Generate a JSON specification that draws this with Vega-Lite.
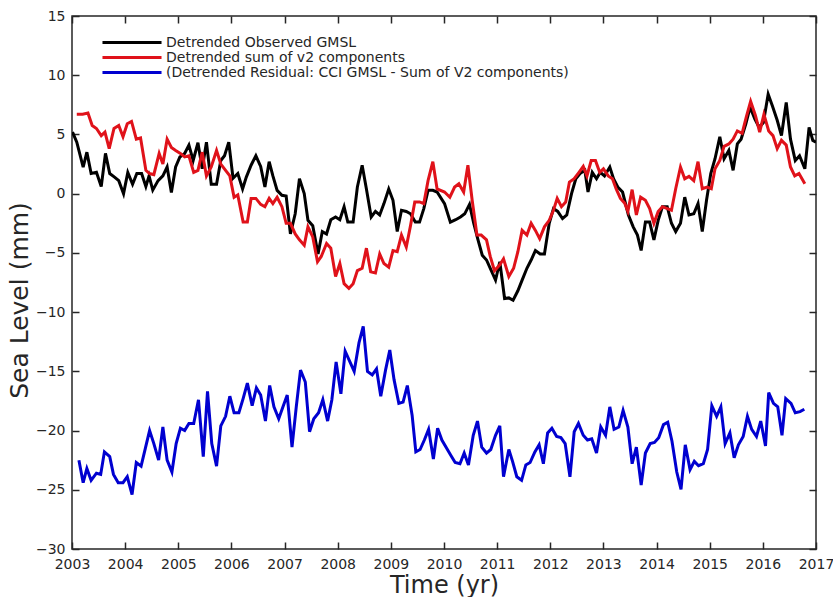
{
  "$schema": "https://vega.github.io/schema/vega-lite/v6.json",
  "width": 744,
  "height": 533,
  "autosize": {"type": "none"},
  "padding": {"left": 72, "top": 16, "right": 17, "bottom": 48},
  "background": "white",
  "config": {
    "view": {"stroke": "#262626", "strokeWidth": 1.5},
    "axis": {
      "labelFont": "DejaVu Sans",
      "titleFont": "DejaVu Sans",
      "labelColor": "#262626",
      "titleColor": "#262626",
      "tickColor": "#262626",
      "titleFontWeight": "normal",
      "grid": false,
      "domain": false,
      "tickWidth": 1.5
    }
  },
  "data": {"values": [
    {"s":"o","t":2003.01,"v":5.2},{"s":"o","t":2003.09,"v":4.35},{"s":"o","t":2003.21,"v":2.25},{"s":"o","t":2003.28,"v":3.5},{"s":"o","t":2003.36,"v":1.7},{"s":"o","t":2003.46,"v":1.8},{"s":"o","t":2003.55,"v":0.6},{"s":"o","t":2003.63,"v":3.4},{"s":"o","t":2003.71,"v":1.7},{"s":"o","t":2003.80,"v":1.4},{"s":"o","t":2003.88,"v":1.1},{"s":"o","t":2003.97,"v":0.0},
    {"s":"o","t":2004.05,"v":1.8},{"s":"o","t":2004.14,"v":0.8},{"s":"o","t":2004.22,"v":1.7},{"s":"o","t":2004.31,"v":1.7},{"s":"o","t":2004.39,"v":0.6},{"s":"o","t":2004.45,"v":1.5},{"s":"o","t":2004.52,"v":0.3},{"s":"o","t":2004.62,"v":1.1},{"s":"o","t":2004.71,"v":1.5},{"s":"o","t":2004.79,"v":2.25},{"s":"o","t":2004.87,"v":0.1},{"s":"o","t":2004.95,"v":2.25},
    {"s":"o","t":2005.03,"v":3.1},{"s":"o","t":2005.12,"v":3.4},{"s":"o","t":2005.20,"v":4.1},{"s":"o","t":2005.28,"v":2.8},{"s":"o","t":2005.37,"v":4.3},{"s":"o","t":2005.45,"v":2.1},{"s":"o","t":2005.53,"v":4.35},{"s":"o","t":2005.62,"v":0.8},{"s":"o","t":2005.72,"v":0.8},{"s":"o","t":2005.80,"v":2.8},{"s":"o","t":2005.87,"v":3.2},{"s":"o","t":2005.95,"v":4.35},
    {"s":"o","t":2006.03,"v":1.3},{"s":"o","t":2006.12,"v":1.7},{"s":"o","t":2006.21,"v":0.4},{"s":"o","t":2006.28,"v":1.4},{"s":"o","t":2006.37,"v":2.4},{"s":"o","t":2006.46,"v":3.2},{"s":"o","t":2006.55,"v":2.3},{"s":"o","t":2006.63,"v":0.56},{"s":"o","t":2006.71,"v":2.7},{"s":"o","t":2006.78,"v":1.5},{"s":"o","t":2006.86,"v":0.28},{"s":"o","t":2006.95,"v":-0.14},
    {"s":"o","t":2007.03,"v":-0.2},{"s":"o","t":2007.11,"v":-3.4},{"s":"o","t":2007.20,"v":-1.7},{"s":"o","t":2007.28,"v":1.26},{"s":"o","t":2007.37,"v":0.0},{"s":"o","t":2007.44,"v":-2.25},{"s":"o","t":2007.53,"v":-2.7},{"s":"o","t":2007.63,"v":-5.1},{"s":"o","t":2007.71,"v":-3.2},{"s":"o","t":2007.79,"v":-3.4},{"s":"o","t":2007.87,"v":-2.2},{"s":"o","t":2007.96,"v":-1.97},
    {"s":"o","t":2008.04,"v":-2.2},{"s":"o","t":2008.12,"v":-1.1},{"s":"o","t":2008.19,"v":-2.4},{"s":"o","t":2008.29,"v":-2.4},{"s":"o","t":2008.37,"v":0.56},{"s":"o","t":2008.46,"v":2.4},{"s":"o","t":2008.54,"v":0.4},{"s":"o","t":2008.63,"v":-1.97},{"s":"o","t":2008.71,"v":-1.5},{"s":"o","t":2008.79,"v":-1.8},{"s":"o","t":2008.87,"v":-0.84},{"s":"o","t":2008.96,"v":0.4},
    {"s":"o","t":2009.04,"v":-0.56},{"s":"o","t":2009.12,"v":-3.2},{"s":"o","t":2009.20,"v":-1.4},{"s":"o","t":2009.29,"v":-1.5},{"s":"o","t":2009.37,"v":-1.7},{"s":"o","t":2009.46,"v":-2.4},{"s":"o","t":2009.54,"v":-2.4},{"s":"o","t":2009.62,"v":-1.26},{"s":"o","t":2009.70,"v":0.28},{"s":"o","t":2009.79,"v":0.28},{"s":"o","t":2009.87,"v":0.14},
    {"s":"o","t":2010.01,"v":-0.84},{"s":"o","t":2010.12,"v":-2.4},{"s":"o","t":2010.22,"v":-2.2},{"s":"o","t":2010.31,"v":-1.97},{"s":"o","t":2010.39,"v":-1.7},{"s":"o","t":2010.48,"v":-0.9},{"s":"o","t":2010.56,"v":-2.5},{"s":"o","t":2010.64,"v":-3.9},{"s":"o","t":2010.72,"v":-5.2},{"s":"o","t":2010.80,"v":-5.6},{"s":"o","t":2010.89,"v":-6.5},{"s":"o","t":2010.97,"v":-7.3},
    {"s":"o","t":2011.05,"v":-5.75},{"s":"o","t":2011.14,"v":-8.85},{"s":"o","t":2011.22,"v":-8.8},{"s":"o","t":2011.30,"v":-9.0},{"s":"o","t":2011.39,"v":-8.2},{"s":"o","t":2011.47,"v":-7.3},{"s":"o","t":2011.56,"v":-6.3},{"s":"o","t":2011.64,"v":-5.6},{"s":"o","t":2011.72,"v":-4.8},{"s":"o","t":2011.81,"v":-5.1},{"s":"o","t":2011.89,"v":-5.1},{"s":"o","t":2011.98,"v":-2.5},
    {"s":"o","t":2012.06,"v":-1.26},{"s":"o","t":2012.14,"v":-1.5},{"s":"o","t":2012.23,"v":-2.1},{"s":"o","t":2012.31,"v":-1.8},{"s":"o","t":2012.40,"v":0.0},{"s":"o","t":2012.48,"v":1.26},{"s":"o","t":2012.56,"v":1.7},{"s":"o","t":2012.65,"v":1.97},{"s":"o","t":2012.71,"v":0.14},{"s":"o","t":2012.79,"v":1.8},{"s":"o","t":2012.87,"v":1.26},{"s":"o","t":2012.94,"v":1.8},
    {"s":"o","t":2013.02,"v":1.5},{"s":"o","t":2013.12,"v":2.25},{"s":"o","t":2013.19,"v":1.26},{"s":"o","t":2013.27,"v":0.56},{"s":"o","t":2013.36,"v":0.14},{"s":"o","t":2013.47,"v":-1.8},{"s":"o","t":2013.56,"v":-2.8},{"s":"o","t":2013.64,"v":-3.5},{"s":"o","t":2013.71,"v":-4.8},{"s":"o","t":2013.79,"v":-2.4},{"s":"o","t":2013.87,"v":-2.4},{"s":"o","t":2013.95,"v":-3.9},
    {"s":"o","t":2014.03,"v":-2.25},{"s":"o","t":2014.11,"v":-1.1},{"s":"o","t":2014.20,"v":-1.1},{"s":"o","t":2014.28,"v":-2.5},{"s":"o","t":2014.36,"v":-3.2},{"s":"o","t":2014.45,"v":-2.5},{"s":"o","t":2014.53,"v":-0.3},{"s":"o","t":2014.61,"v":-1.8},{"s":"o","t":2014.70,"v":-1.7},{"s":"o","t":2014.78,"v":-0.84},{"s":"o","t":2014.86,"v":-3.2},{"s":"o","t":2014.94,"v":-0.56},
    {"s":"o","t":2015.02,"v":1.7},{"s":"o","t":2015.10,"v":2.95},{"s":"o","t":2015.19,"v":4.8},{"s":"o","t":2015.27,"v":2.95},{"s":"o","t":2015.36,"v":3.65},{"s":"o","t":2015.44,"v":1.97},{"s":"o","t":2015.52,"v":4.2},{"s":"o","t":2015.59,"v":4.6},{"s":"o","t":2015.68,"v":5.9},{"s":"o","t":2015.76,"v":7.3},{"s":"o","t":2015.85,"v":6.3},{"s":"o","t":2015.93,"v":5.6},
    {"s":"o","t":2016.01,"v":6.0},{"s":"o","t":2016.10,"v":8.4},{"s":"o","t":2016.18,"v":7.4},{"s":"o","t":2016.27,"v":6.2},{"s":"o","t":2016.35,"v":4.9},{"s":"o","t":2016.44,"v":7.7},{"s":"o","t":2016.52,"v":4.6},{"s":"o","t":2016.61,"v":2.8},{"s":"o","t":2016.69,"v":3.2},{"s":"o","t":2016.79,"v":2.1},{"s":"o","t":2016.87,"v":5.6},{"s":"o","t":2016.94,"v":4.5},{"s":"o","t":2017.0,"v":4.35},

    {"s":"s","t":2003.09,"v":6.7},{"s":"s","t":2003.20,"v":6.7},{"s":"s","t":2003.30,"v":6.8},{"s":"s","t":2003.38,"v":5.75},{"s":"s","t":2003.46,"v":5.5},{"s":"s","t":2003.55,"v":4.9},{"s":"s","t":2003.62,"v":5.2},{"s":"s","t":2003.70,"v":3.8},{"s":"s","t":2003.79,"v":5.5},{"s":"s","t":2003.88,"v":5.75},{"s":"s","t":2003.96,"v":4.8},
    {"s":"s","t":2004.04,"v":5.9},{"s":"s","t":2004.12,"v":6.1},{"s":"s","t":2004.21,"v":4.6},{"s":"s","t":2004.29,"v":4.7},{"s":"s","t":2004.39,"v":1.97},{"s":"s","t":2004.46,"v":1.7},{"s":"s","t":2004.54,"v":1.6},{"s":"s","t":2004.64,"v":3.4},{"s":"s","t":2004.71,"v":2.5},{"s":"s","t":2004.79,"v":4.6},{"s":"s","t":2004.87,"v":3.9},{"s":"s","t":2004.95,"v":3.65},
    {"s":"s","t":2005.04,"v":3.4},{"s":"s","t":2005.12,"v":3.1},{"s":"s","t":2005.20,"v":3.2},{"s":"s","t":2005.29,"v":1.8},{"s":"s","t":2005.37,"v":1.97},{"s":"s","t":2005.45,"v":3.5},{"s":"s","t":2005.53,"v":1.5},{"s":"s","t":2005.62,"v":2.25},{"s":"s","t":2005.72,"v":3.65},{"s":"s","t":2005.80,"v":2.5},{"s":"s","t":2005.89,"v":1.97},{"s":"s","t":2005.97,"v":1.5},
    {"s":"s","t":2006.05,"v":-0.3},{"s":"s","t":2006.12,"v":-0.1},{"s":"s","t":2006.22,"v":-2.4},{"s":"s","t":2006.30,"v":-2.4},{"s":"s","t":2006.37,"v":-0.4},{"s":"s","t":2006.46,"v":-0.4},{"s":"s","t":2006.55,"v":-0.9},{"s":"s","t":2006.63,"v":-1.1},{"s":"s","t":2006.71,"v":-0.4},{"s":"s","t":2006.78,"v":-0.84},{"s":"s","t":2006.86,"v":-0.3},{"s":"s","t":2006.95,"v":-1.1},
    {"s":"s","t":2007.03,"v":-2.5},{"s":"s","t":2007.11,"v":-2.5},{"s":"s","t":2007.20,"v":-3.4},{"s":"s","t":2007.28,"v":-3.9},{"s":"s","t":2007.37,"v":-4.35},{"s":"s","t":2007.44,"v":-2.8},{"s":"s","t":2007.53,"v":-3.65},{"s":"s","t":2007.62,"v":-5.75},{"s":"s","t":2007.69,"v":-5.3},{"s":"s","t":2007.79,"v":-4.2},{"s":"s","t":2007.87,"v":-4.6},{"s":"s","t":2007.96,"v":-7.0},
    {"s":"s","t":2008.04,"v":-5.9},{"s":"s","t":2008.12,"v":-7.6},{"s":"s","t":2008.21,"v":-8.0},{"s":"s","t":2008.29,"v":-7.6},{"s":"s","t":2008.37,"v":-6.5},{"s":"s","t":2008.46,"v":-6.3},{"s":"s","t":2008.54,"v":-4.6},{"s":"s","t":2008.62,"v":-6.6},{"s":"s","t":2008.71,"v":-6.7},{"s":"s","t":2008.79,"v":-5.1},{"s":"s","t":2008.87,"v":-5.9},{"s":"s","t":2008.96,"v":-6.2},
    {"s":"s","t":2009.04,"v":-4.8},{"s":"s","t":2009.12,"v":-4.9},{"s":"s","t":2009.20,"v":-3.5},{"s":"s","t":2009.29,"v":-4.5},{"s":"s","t":2009.37,"v":-2.7},{"s":"s","t":2009.45,"v":-0.7},{"s":"s","t":2009.54,"v":-0.7},{"s":"s","t":2009.62,"v":-0.84},{"s":"s","t":2009.70,"v":1.1},{"s":"s","t":2009.79,"v":2.7},{"s":"s","t":2009.87,"v":0.4},
    {"s":"s","t":2010.01,"v":0.14},{"s":"s","t":2010.11,"v":-0.3},{"s":"s","t":2010.20,"v":0.56},{"s":"s","t":2010.28,"v":0.84},{"s":"s","t":2010.37,"v":0.14},{"s":"s","t":2010.45,"v":2.4},{"s":"s","t":2010.53,"v":-0.56},{"s":"s","t":2010.62,"v":-3.5},{"s":"s","t":2010.70,"v":-3.5},{"s":"s","t":2010.80,"v":-3.9},{"s":"s","t":2010.87,"v":-5.3},{"s":"s","t":2010.95,"v":-6.5},
    {"s":"s","t":2011.05,"v":-6.0},{"s":"s","t":2011.12,"v":-5.5},{"s":"s","t":2011.22,"v":-7.0},{"s":"s","t":2011.31,"v":-6.3},{"s":"s","t":2011.39,"v":-4.9},{"s":"s","t":2011.47,"v":-3.1},{"s":"s","t":2011.56,"v":-3.5},{"s":"s","t":2011.64,"v":-2.5},{"s":"s","t":2011.72,"v":-3.1},{"s":"s","t":2011.80,"v":-3.8},{"s":"s","t":2011.89,"v":-2.8},{"s":"s","t":2011.98,"v":-2.25},
    {"s":"s","t":2012.06,"v":-1.4},{"s":"s","t":2012.13,"v":-0.4},{"s":"s","t":2012.21,"v":-1.1},{"s":"s","t":2012.29,"v":-0.7},{"s":"s","t":2012.36,"v":0.98},{"s":"s","t":2012.45,"v":1.26},{"s":"s","t":2012.54,"v":1.8},{"s":"s","t":2012.62,"v":2.3},{"s":"s","t":2012.69,"v":1.5},{"s":"s","t":2012.77,"v":2.8},{"s":"s","t":2012.85,"v":2.8},{"s":"s","t":2012.93,"v":1.8},
    {"s":"s","t":2013.00,"v":2.1},{"s":"s","t":2013.09,"v":1.5},{"s":"s","t":2013.17,"v":1.26},{"s":"s","t":2013.24,"v":0.4},{"s":"s","t":2013.32,"v":-0.4},{"s":"s","t":2013.40,"v":-0.8},{"s":"s","t":2013.46,"v":-1.5},{"s":"s","t":2013.54,"v":0.34},{"s":"s","t":2013.62,"v":-1.8},{"s":"s","t":2013.70,"v":-0.3},{"s":"s","t":2013.79,"v":-0.56},{"s":"s","t":2013.87,"v":-1.26},{"s":"s","t":2013.95,"v":-2.5},
    {"s":"s","t":2014.03,"v":-1.5},{"s":"s","t":2014.11,"v":-1.1},{"s":"s","t":2014.20,"v":-1.26},{"s":"s","t":2014.28,"v":-1.4},{"s":"s","t":2014.36,"v":0.42},{"s":"s","t":2014.45,"v":2.25},{"s":"s","t":2014.53,"v":1.26},{"s":"s","t":2014.61,"v":1.46},{"s":"s","t":2014.70,"v":1.1},{"s":"s","t":2014.78,"v":2.7},{"s":"s","t":2014.86,"v":0.42},{"s":"s","t":2014.95,"v":0.56},
    {"s":"s","t":2015.03,"v":0.42},{"s":"s","t":2015.10,"v":2.1},{"s":"s","t":2015.19,"v":2.8},{"s":"s","t":2015.27,"v":4.0},{"s":"s","t":2015.36,"v":4.2},{"s":"s","t":2015.44,"v":4.6},{"s":"s","t":2015.52,"v":5.3},{"s":"s","t":2015.61,"v":5.1},{"s":"s","t":2015.69,"v":6.5},{"s":"s","t":2015.77,"v":7.8},{"s":"s","t":2015.86,"v":6.6},{"s":"s","t":2015.94,"v":5.2},
    {"s":"s","t":2016.02,"v":6.7},{"s":"s","t":2016.11,"v":5.3},{"s":"s","t":2016.19,"v":4.9},{"s":"s","t":2016.27,"v":3.8},{"s":"s","t":2016.35,"v":4.5},{"s":"s","t":2016.44,"v":4.1},{"s":"s","t":2016.52,"v":2.25},{"s":"s","t":2016.60,"v":1.5},{"s":"s","t":2016.68,"v":1.7},{"s":"s","t":2016.79,"v":0.84},

    {"s":"r","t":2003.13,"v":-22.5},{"s":"r","t":2003.21,"v":-24.4},{"s":"r","t":2003.28,"v":-23.2},{"s":"r","t":2003.36,"v":-24.2},{"s":"r","t":2003.46,"v":-23.6},{"s":"r","t":2003.54,"v":-23.7},{"s":"r","t":2003.61,"v":-21.8},{"s":"r","t":2003.71,"v":-22.2},{"s":"r","t":2003.78,"v":-23.7},{"s":"r","t":2003.87,"v":-24.4},{"s":"r","t":2003.96,"v":-24.4},
    {"s":"r","t":2004.04,"v":-23.9},{"s":"r","t":2004.13,"v":-25.4},{"s":"r","t":2004.21,"v":-22.7},{"s":"r","t":2004.30,"v":-23.0},{"s":"r","t":2004.38,"v":-21.5},{"s":"r","t":2004.46,"v":-20.0},{"s":"r","t":2004.54,"v":-21.1},{"s":"r","t":2004.63,"v":-22.5},{"s":"r","t":2004.71,"v":-19.7},{"s":"r","t":2004.79,"v":-22.5},{"s":"r","t":2004.88,"v":-23.5},{"s":"r","t":2004.96,"v":-21.1},
    {"s":"r","t":2005.04,"v":-19.8},{"s":"r","t":2005.12,"v":-20.0},{"s":"r","t":2005.20,"v":-19.4},{"s":"r","t":2005.29,"v":-19.4},{"s":"r","t":2005.38,"v":-17.4},{"s":"r","t":2005.47,"v":-22.2},{"s":"r","t":2005.55,"v":-16.7},{"s":"r","t":2005.63,"v":-21.1},{"s":"r","t":2005.72,"v":-23.0},{"s":"r","t":2005.80,"v":-19.6},{"s":"r","t":2005.89,"v":-18.8},{"s":"r","t":2005.97,"v":-17.1},
    {"s":"r","t":2006.05,"v":-18.5},{"s":"r","t":2006.14,"v":-18.5},{"s":"r","t":2006.22,"v":-17.3},{"s":"r","t":2006.30,"v":-16.0},{"s":"r","t":2006.39,"v":-17.9},{"s":"r","t":2006.47,"v":-16.4},{"s":"r","t":2006.55,"v":-17.0},{"s":"r","t":2006.64,"v":-19.2},{"s":"r","t":2006.72,"v":-16.2},{"s":"r","t":2006.80,"v":-18.0},{"s":"r","t":2006.89,"v":-19.0},{"s":"r","t":2006.97,"v":-18.0},
    {"s":"r","t":2007.05,"v":-17.0},{"s":"r","t":2007.14,"v":-21.4},{"s":"r","t":2007.22,"v":-18.0},{"s":"r","t":2007.30,"v":-14.9},{"s":"r","t":2007.39,"v":-15.9},{"s":"r","t":2007.47,"v":-20.1},{"s":"r","t":2007.55,"v":-19.0},{"s":"r","t":2007.64,"v":-18.5},{"s":"r","t":2007.72,"v":-17.4},{"s":"r","t":2007.81,"v":-19.2},{"s":"r","t":2007.89,"v":-17.4},{"s":"r","t":2007.97,"v":-14.2},
    {"s":"r","t":2008.06,"v":-16.9},{"s":"r","t":2008.14,"v":-13.3},{"s":"r","t":2008.23,"v":-14.2},{"s":"r","t":2008.31,"v":-15.0},{"s":"r","t":2008.40,"v":-12.6},{"s":"r","t":2008.48,"v":-11.2},{"s":"r","t":2008.56,"v":-15.0},{"s":"r","t":2008.65,"v":-15.3},{"s":"r","t":2008.73,"v":-14.8},{"s":"r","t":2008.81,"v":-17.1},{"s":"r","t":2008.90,"v":-14.9},{"s":"r","t":2008.98,"v":-13.2},
    {"s":"r","t":2009.06,"v":-15.7},{"s":"r","t":2009.15,"v":-17.7},{"s":"r","t":2009.23,"v":-17.6},{"s":"r","t":2009.31,"v":-16.2},{"s":"r","t":2009.40,"v":-18.7},{"s":"r","t":2009.47,"v":-21.8},{"s":"r","t":2009.55,"v":-21.6},{"s":"r","t":2009.63,"v":-20.8},{"s":"r","t":2009.71,"v":-19.9},{"s":"r","t":2009.80,"v":-22.4},{"s":"r","t":2009.88,"v":-19.8},{"s":"r","t":2009.96,"v":-20.8},
    {"s":"r","t":2010.05,"v":-21.5},{"s":"r","t":2010.13,"v":-22.1},{"s":"r","t":2010.21,"v":-22.7},{"s":"r","t":2010.30,"v":-22.8},{"s":"r","t":2010.38,"v":-21.9},{"s":"r","t":2010.46,"v":-22.9},{"s":"r","t":2010.55,"v":-20.4},{"s":"r","t":2010.63,"v":-19.2},{"s":"r","t":2010.71,"v":-21.4},{"s":"r","t":2010.80,"v":-21.9},{"s":"r","t":2010.88,"v":-21.6},{"s":"r","t":2010.97,"v":-20.4},
    {"s":"r","t":2011.05,"v":-19.6},{"s":"r","t":2011.12,"v":-23.9},{"s":"r","t":2011.22,"v":-21.6},{"s":"r","t":2011.29,"v":-22.6},{"s":"r","t":2011.37,"v":-23.9},{"s":"r","t":2011.46,"v":-24.2},{"s":"r","t":2011.54,"v":-22.9},{"s":"r","t":2011.62,"v":-22.7},{"s":"r","t":2011.71,"v":-21.8},{"s":"r","t":2011.79,"v":-21.2},{"s":"r","t":2011.87,"v":-22.8},{"s":"r","t":2011.95,"v":-20.2},
    {"s":"r","t":2012.03,"v":-19.8},{"s":"r","t":2012.12,"v":-20.5},{"s":"r","t":2012.20,"v":-20.6},{"s":"r","t":2012.28,"v":-21.1},{"s":"r","t":2012.37,"v":-23.9},{"s":"r","t":2012.45,"v":-20.1},{"s":"r","t":2012.53,"v":-19.4},{"s":"r","t":2012.62,"v":-20.4},{"s":"r","t":2012.70,"v":-20.8},{"s":"r","t":2012.78,"v":-20.7},{"s":"r","t":2012.87,"v":-21.9},{"s":"r","t":2012.95,"v":-19.7},
    {"s":"r","t":2013.04,"v":-20.4},{"s":"r","t":2013.12,"v":-18.0},{"s":"r","t":2013.20,"v":-19.9},{"s":"r","t":2013.29,"v":-19.7},{"s":"r","t":2013.37,"v":-18.3},{"s":"r","t":2013.46,"v":-19.7},{"s":"r","t":2013.54,"v":-22.8},{"s":"r","t":2013.62,"v":-21.4},{"s":"r","t":2013.71,"v":-24.6},{"s":"r","t":2013.79,"v":-21.9},{"s":"r","t":2013.88,"v":-21.1},{"s":"r","t":2013.96,"v":-21.0},
    {"s":"r","t":2014.04,"v":-20.6},{"s":"r","t":2014.13,"v":-19.5},{"s":"r","t":2014.21,"v":-19.3},{"s":"r","t":2014.29,"v":-20.9},{"s":"r","t":2014.38,"v":-23.5},{"s":"r","t":2014.46,"v":-24.96},{"s":"r","t":2014.54,"v":-21.2},{"s":"r","t":2014.63,"v":-23.3},{"s":"r","t":2014.71,"v":-22.6},{"s":"r","t":2014.79,"v":-22.97},{"s":"r","t":2014.88,"v":-22.8},{"s":"r","t":2014.96,"v":-21.6},
    {"s":"r","t":2015.04,"v":-17.9},{"s":"r","t":2015.13,"v":-18.8},{"s":"r","t":2015.21,"v":-18.0},{"s":"r","t":2015.29,"v":-21.1},{"s":"r","t":2015.38,"v":-20.2},{"s":"r","t":2015.46,"v":-22.3},{"s":"r","t":2015.54,"v":-21.2},{"s":"r","t":2015.63,"v":-20.5},{"s":"r","t":2015.71,"v":-18.8},{"s":"r","t":2015.79,"v":-19.9},{"s":"r","t":2015.88,"v":-20.5},{"s":"r","t":2015.96,"v":-19.2},
    {"s":"r","t":2016.05,"v":-21.3},{"s":"r","t":2016.11,"v":-16.8},{"s":"r","t":2016.20,"v":-17.7},{"s":"r","t":2016.28,"v":-18.0},{"s":"r","t":2016.36,"v":-20.4},{"s":"r","t":2016.43,"v":-17.3},{"s":"r","t":2016.53,"v":-17.7},{"s":"r","t":2016.61,"v":-18.5},{"s":"r","t":2016.70,"v":-18.4},{"s":"r","t":2016.78,"v":-18.2}
  ]},
  "layer": [
    {
      "mark": {"type": "line", "strokeWidth": 3, "strokeJoin": "miter", "clip": true},
      "encoding": {
        "x": {
          "field": "t", "type": "quantitative",
          "scale": {"domain": [2003, 2017], "nice": false, "zero": false},
          "axis": {
            "orient": "bottom", "title": "Time (yr)", "titleFontSize": 24, "titlePadding": 2,
            "values": [2003,2004,2005,2006,2007,2008,2009,2010,2011,2012,2013,2014,2015,2016,2017],
            "format": "d", "labelFontSize": 14, "tickSize": -7, "labelPadding": 15, "labelFlush": false
          }
        },
        "y": {
          "field": "v", "type": "quantitative",
          "scale": {"domain": [-30, 15], "nice": false, "zero": false},
          "axis": {
            "orient": "left", "title": "Sea Level (mm)", "titleFontSize": 25, "titlePadding": 3, "titleY": 284,
            "values": [-30,-25,-20,-15,-10,-5,0,5,10,15],
            "labelFontSize": 14, "tickSize": -7, "labelPadding": 14, "labelFlush": false
          }
        },
        "color": {
          "field": "s", "type": "nominal",
          "scale": {"domain": ["o", "s", "r"], "range": ["#000000", "#e0121a", "#0000d0"]},
          "legend": {
            "orient": "none", "legendX": 52.5, "legendY": 19, "title": null,
            "symbolType": "M-4.92,0H4.92", "symbolSize": 144, "symbolStrokeWidth": 3,
            "labelOffset": 26.5, "labelFontSize": 14, "labelFont": "DejaVu Sans", "labelColor": "#262626",
            "labelLimit": 700, "padding": 0, "rowPadding": 0,
            "labelExpr": "datum.value == 'o' ? 'Detrended Observed GMSL' : datum.value == 's' ? 'Detrended sum of v2 components' : '(Detrended Residual: CCI GMSL - Sum of V2 components)'"
          }
        }
      }
    },
    {
      "mark": {"type": "point", "opacity": 0},
      "encoding": {
        "x": {
          "field": "t", "type": "quantitative",
          "axis": {
            "orient": "top", "title": null, "labels": false, "tickSize": -7,
            "values": [2003,2004,2005,2006,2007,2008,2009,2010,2011,2012,2013,2014,2015,2016,2017]
          }
        },
        "y": {
          "field": "v", "type": "quantitative",
          "axis": {
            "orient": "right", "title": null, "labels": false, "tickSize": -7,
            "values": [-30,-25,-20,-15,-10,-5,0,5,10,15]
          }
        }
      }
    }
  ],
  "resolve": {"axis": {"x": "independent", "y": "independent"}}
}
